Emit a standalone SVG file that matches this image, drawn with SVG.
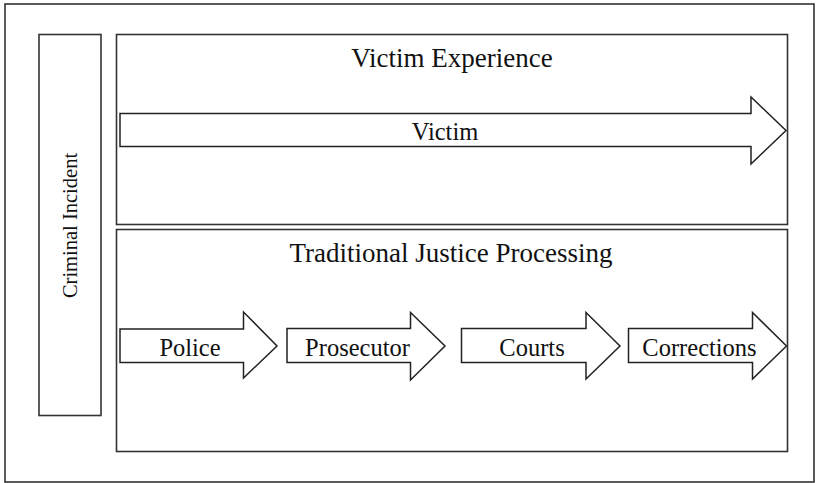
<svg xmlns="http://www.w3.org/2000/svg" width="819" height="483" viewBox="0 0 819 483">
<style>
.box{fill:#fff;stroke:#333;stroke-width:1.6}
.arr{fill:#fff;stroke:#222;stroke-width:1.5;stroke-linejoin:miter}
text{font-family:'Liberation Serif','DejaVu Serif',serif;fill:#111;text-anchor:middle}
.h{font-size:27px}
.l{font-size:24.5px}
</style>
<rect width="819" height="483" fill="#fff"/>
<g id="frame"><rect class="box" x="5" y="4" width="809" height="478"/></g>
<g id="criminal-incident">
<rect class="box" x="39" y="34.5" width="62" height="381"/>
<text font-family="Liberation Serif, serif" style="font-size:20.5px" transform="translate(76.5,225.5) rotate(-90)">Criminal Incident</text>
</g>
<g id="victim-experience">
<rect class="box" x="116.5" y="34.5" width="671" height="190"/>
<text class="h" font-family="Liberation Serif, serif" x="452" y="66.5">Victim Experience</text>
</g>
<g id="traditional-justice">
<rect class="box" x="116.5" y="229.5" width="671" height="222"/>
<text class="h" font-family="Liberation Serif, serif" x="451" y="261.5">Traditional Justice Processing</text>
</g>
<g id="connectors">
<g id="victim-arrow">
<polygon class="arr" points="120,113.5 751,113.5 751,97 786,130.5 751,164 751,146.5 120,146.5"/>
<text class="l" font-family="Liberation Serif, serif" x="445" y="139.5">Victim</text>
</g>
<g id="police">
<polygon class="arr" points="120,329 243.5,329 243.5,312 277,346 243.5,378 243.5,362.5 120,362.5"/>
<text class="l" font-family="Liberation Serif, serif" x="190" y="356">Police</text>
</g>
<g id="prosecutor">
<polygon class="arr" points="287,328.5 410.5,328.5 410.5,312.5 445,346 410.5,380 410.5,362.5 287,362.5"/>
<text class="l" font-family="Liberation Serif, serif" x="357.5" y="355.5">Prosecutor</text>
</g>
<g id="courts">
<polygon class="arr" points="461.5,328.5 586,328.5 586,312.5 620,346 586,379 586,362.5 461.5,362.5"/>
<text class="l" font-family="Liberation Serif, serif" x="532" y="355.5">Courts</text>
</g>
<g id="corrections">
<polygon class="arr" points="628.5,328.5 752.5,328.5 752.5,312.5 786.5,346 752.5,379 752.5,362.5 628.5,362.5"/>
<text class="l" font-family="Liberation Serif, serif" x="699.5" y="355.5">Corrections</text>
</g>
</g>
</svg>
